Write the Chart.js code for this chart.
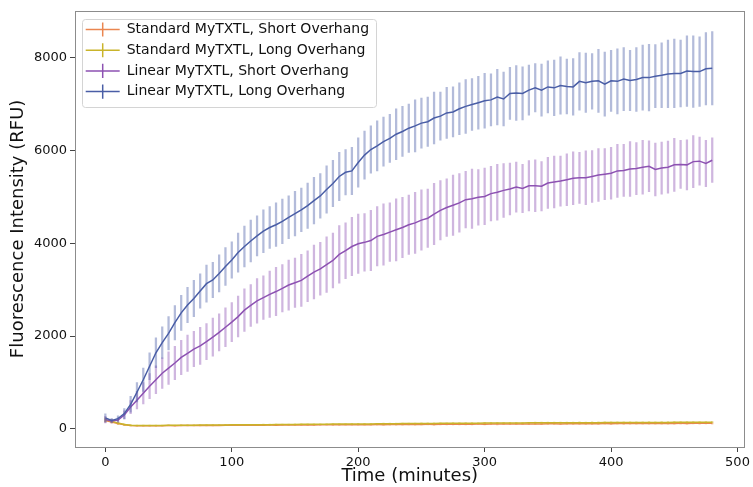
<!DOCTYPE html>
<html>
<head>
<meta charset="utf-8">
<script src="https://cdn.jsdelivr.net/npm/chart.js@4.4.1/dist/chart.umd.min.js"></script>
<style>
  html, body { margin: 0; padding: 0; background: #fff; }
  #wrap { width: 753px; height: 487px; }
</style>
</head>
<body>
<div id="wrap"><canvas id="fluorChart"></canvas></div>
<script>
// sampling times (minutes)
const minutes = [0,5,10,15,20,25,30,35,40,45,50,55,60,65,70,75,80,85,90,95,
  100,105,110,115,120,125,130,135,140,145,150,155,160,165,170,175,180,185,190,195,
  200,205,210,215,220,225,230,235,240,245,250,255,260,265,270,275,280,285,290,295,
  300,305,310,315,320,325,330,335,340,345,350,355,360,365,370,375,380,385,390,395,
  400,405,410,415,420,425,430,435,440,445,450,455,460,465,470,475,480];

const seriesNames = [
  'Standard MyTXTL, Short Overhang',
  'Standard MyTXTL, Long Overhang',
  'Linear MyTXTL, Short Overhang',
  'Linear MyTXTL, Long Overhang'
];

const stdShort = [180,150,115,88,74,68,66,67,69,70,
  71,70,72,73,72,74,75,74,76,77,
  78,77,79,80,79,81,82,81,83,84,
  83,85,86,85,87,88,87,89,90,89,
  91,92,91,93,92,94,95,94,96,95,
  97,98,96,99,100,98,101,100,102,103,
  101,104,103,105,106,104,107,106,108,107,
  109,110,108,111,110,112,111,113,112,114,
  113,115,114,116,115,117,116,118,117,119,
  118,120,119,121,120,122,121];
const stdShortErr = [35,25,18,12,9,8,8,9,8,9,
  8,9,10,9,8,9,10,9,8,10,
  9,10,9,11,10,9,10,11,10,9,
  10,11,10,12,11,10,11,12,11,10,
  12,11,12,13,12,11,12,13,12,13,
  12,13,14,12,13,14,13,12,14,13,
  14,13,15,14,13,14,15,14,13,15,
  14,15,14,16,15,14,15,16,15,14,
  16,15,16,15,14,16,15,16,17,15,
  16,17,16,15,17,16,17];

const stdLong = [200,165,125,95,80,74,72,73,75,76,
  78,77,79,80,81,82,83,84,85,86,
  87,88,88,90,91,92,92,94,95,96,
  96,98,99,100,100,102,103,104,104,106,
  107,108,108,110,111,112,112,114,115,116,
  116,118,119,120,120,121,122,123,123,124,
  125,126,126,127,128,128,129,130,130,131,
  131,132,132,133,133,134,134,135,135,136,
  136,137,137,138,138,139,139,139,140,140,
  141,141,141,142,142,143,143];
const stdLongErr = [45,35,30,22,15,10,9,8,9,8,
  9,8,9,10,9,8,9,10,9,10,
  9,10,11,10,9,10,11,10,11,10,
  11,10,11,12,11,12,11,12,11,12,
  13,12,11,12,13,12,13,12,13,12,
  13,14,13,12,13,14,13,14,13,14,
  15,14,13,14,15,14,15,14,15,14,
  15,16,15,14,15,16,15,16,15,16,
  15,16,17,16,15,16,17,16,17,16,
  17,16,17,18,17,16,18];

const linShort = [200,170,190,300,470,620,770,920,1060,1200,
  1310,1420,1540,1630,1720,1790,1880,1980,2080,2190,
  2300,2420,2560,2660,2760,2830,2900,2960,3030,3100,
  3150,3200,3290,3380,3450,3540,3630,3760,3840,3930,
  3990,4020,4060,4150,4190,4240,4290,4340,4400,4440,
  4500,4540,4630,4710,4770,4820,4870,4940,4960,4990,
  5010,5070,5100,5140,5170,5210,5180,5240,5240,5230,
  5300,5320,5340,5370,5400,5410,5410,5440,5470,5490,
  5510,5560,5570,5600,5610,5640,5660,5590,5620,5640,
  5690,5700,5690,5760,5770,5720,5790];
const linShortErr = [70,40,50,90,140,190,230,270,300,330,
  350,360,370,390,380,400,390,410,400,420,
  420,440,460,450,480,470,500,520,510,540,
  530,560,550,580,570,600,590,620,600,630,
  640,620,650,640,660,630,670,650,640,660,
  650,630,660,640,620,650,630,610,640,600,
  610,590,600,580,560,540,520,540,560,530,
  550,560,540,560,570,550,580,560,570,550,
  560,570,560,590,560,580,550,570,560,560,
  570,520,540,560,520,500,480];

const linLong = [237,180,220,330,530,790,1060,1350,1640,1860,
  2060,2290,2500,2670,2810,2970,3130,3210,3350,3500,
  3640,3800,3930,4050,4160,4260,4340,4400,4470,4560,
  4640,4720,4810,4920,5020,5160,5290,5440,5530,5560,
  5740,5900,6020,6100,6190,6260,6350,6410,6480,6530,
  6590,6620,6700,6740,6810,6830,6900,6950,6990,7030,
  7070,7090,7150,7110,7230,7240,7230,7300,7350,7300,
  7370,7350,7400,7380,7370,7490,7460,7490,7500,7430,
  7500,7490,7540,7510,7530,7570,7570,7600,7620,7650,
  7660,7660,7710,7700,7700,7760,7770];
const linLongErr = [90,40,60,110,170,210,250,290,320,340,
  360,370,380,380,390,370,400,380,400,410,
  390,420,440,450,430,460,450,470,480,460,
  480,470,490,500,480,510,500,520,490,510,
  530,520,510,540,530,520,550,540,520,560,
  540,530,560,520,550,540,560,580,560,570,
  590,560,600,580,560,590,570,540,520,560,
  560,600,620,590,610,620,640,600,680,690,
  660,700,680,650,690,700,720,680,700,730,
  740,720,760,770,750,780,790];

const xTicks = [0, 100, 200, 300, 400, 500];
const yTicks = [0, 2000, 4000, 6000, 8000];

const lineColors = ['#ea8650', '#c9b42a', '#8d52b2', '#4a5ea6'];
const barColors = ['rgba(234,134,80,0.45)', 'rgba(201,180,42,0.45)', 'rgba(141,82,178,0.42)', 'rgba(74,94,166,0.42)'];

const means = [stdShort, stdLong, linShort, linLong];
const errs = [stdShortErr, stdLongErr, linShortErr, linLongErr];

// blue on top, orange at the bottom (same as plotting order)
const lineOrder = [6, 4, 2, 0];

const FONT = 'DejaVu Sans';
const LEGEND_FONT = 14;
const LEGEND_PAD = 6.7;
const HANDLE_W = 34;

const lineSets = means.map((m, k) => ({
  type: 'line',
  label: seriesNames[k],
  data: minutes.map((t, i) => ({x: t, y: m[i]})),
  borderColor: lineColors[k],
  backgroundColor: lineColors[k],
  borderWidth: 1.5,
  pointRadius: 0,
  pointHoverRadius: 0,
  pointStyle: 'cross',
  tension: 0,
  order: lineOrder[k]
}));

// error bars as thin floating bars
const errSets = means.map((m, k) => ({
  type: 'bar',
  label: seriesNames[k] + ' err',
  data: minutes.map((t, i) => ({x: t, y: [m[i] - errs[k][i], m[i] + errs[k][i]]})),
  backgroundColor: barColors[k],
  borderWidth: 0,
  barThickness: 1.6,
  grouped: false,
  order: lineOrder[k] + 1
}));

const frame = {
  id: 'frame',
  afterLayout(chart) {
    // push the legend a little into the plot, like matplotlib's upper-left legend
    const lg = chart.legend;
    const h = lg.bottom - lg.top;
    lg.top = chart.chartArea.top + 5;
    lg.bottom = lg.top + h;
    lg.left = chart.chartArea.left + 4;
  },
  afterDraw(chart) {
    const {ctx, chartArea: a} = chart;
    ctx.save();
    ctx.strokeStyle = '#8c8c8c';
    ctx.lineWidth = 1;
    ctx.strokeRect(Math.round(a.left) + 0.5, Math.round(a.top) + 0.5,
      Math.round(a.right - a.left), Math.round(a.bottom - a.top));

    // legend frame, sized from the legend's own text
    const lg = chart.legend;
    const items = lg.legendItems || [];
    if (items.length) {
      ctx.font = LEGEND_FONT + 'px "' + FONT + '"';
      const textW = Math.max(...items.map(it => ctx.measureText(it.text).width));
      const textX = lg.left + LEGEND_PAD + HANDLE_W + LEGEND_FONT / 2;
      const l = lg.left + 3;
      const t = lg.top + 3;
      const r = textX + textW + 7;
      const b = lg.top + LEGEND_PAD + items.length * (LEGEND_FONT + LEGEND_PAD) + 1;
      ctx.strokeStyle = '#d4d4d4';
      ctx.beginPath();
      ctx.roundRect(Math.round(l) + 0.5, Math.round(t) + 0.5, Math.round(r - l), Math.round(b - t), 3);
      ctx.stroke();
    }
    ctx.restore();
  }
};

const ctx = document.querySelector('#fluorChart').getContext('2d');
const chart = new Chart(ctx, {
  type: 'line',
  data: { datasets: [...lineSets, ...errSets] },
  options: {
    responsive: true,
    maintainAspectRatio: false,
    animation: false,
    layout: { padding: { top: 10, right: 8, left: 0, bottom: 0 } },
    scales: {
      x: {
        type: 'linear',
        min: -24,
        max: 505.5,
        offset: false,
        afterFit: s => { s.height = 40; },
        afterBuildTicks: s => { s.ticks = xTicks.map(v => ({value: v})); },
        border: { display: false },
        grid: { display: true, offset: false, drawOnChartArea: false, drawTicks: true, tickLength: 5, color: '#444' },
        ticks: {
          color: '#111',
          padding: 3,
          maxRotation: 0,
          font: { family: FONT, size: 13 },
          callback: v => String(v)
        },
        title: {
          display: true,
          text: 'Time (minutes)',
          color: '#111',
          padding: { top: 0, bottom: 0 },
          font: { family: FONT, size: 18 }
        }
      },
      y: {
        type: 'linear',
        min: -390,
        max: 9010,
        beginAtZero: false,
        afterFit: s => { s.width = 75; },
        afterBuildTicks: s => { s.ticks = yTicks.map(v => ({value: v})); },
        border: { display: false },
        grid: { display: true, offset: false, drawOnChartArea: false, drawTicks: true, tickLength: 5, color: '#444' },
        ticks: {
          color: '#111',
          padding: 3,
          font: { family: FONT, size: 13 },
          callback: v => String(v)
        },
        title: {
          display: true,
          text: 'Fluorescence Intensity (RFU)',
          color: '#111',
          padding: { top: 8, bottom: 0 },
          font: { family: FONT, size: 18 }
        }
      }
    },
    plugins: {
      tooltip: { enabled: false },
      legend: {
        position: 'chartArea',
        align: 'start',
        labels: {
          usePointStyle: true,
          pointStyleWidth: HANDLE_W,
          boxHeight: 10,
          padding: LEGEND_PAD,
          color: '#111',
          font: { family: FONT, size: LEGEND_FONT },
          filter: item => item.datasetIndex < 4,
          sort: (a, b) => a.datasetIndex - b.datasetIndex
        }
      }
    }
  },
  plugins: [frame]
});
</script>
</body>
</html>
